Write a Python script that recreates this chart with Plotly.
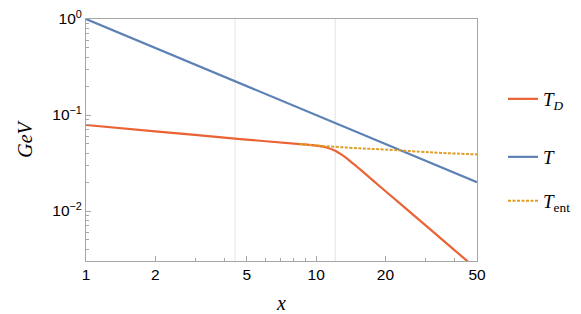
import plotly.graph_objects as go
import math

# ---- data ----
x_T = [1, 50]
y_T = [1.0, 0.02]

x_TD = [1, 2, 4.68, 8.5, 10, 10.99, 12.1, 13.0, 14.09, 15.0, 16.6, 19.0, 23.17, 32.36, 44.98, 50]
y_TD = [0.0787, 0.0676, 0.0562, 0.0498, 0.04808, 0.04613, 0.04246, 0.03819,
        0.03296, 0.02911, 0.02366, 0.01791, 0.01194, 0.006026, 0.003069, 0.002472]

x_Tent = [8.5, 10, 15.5, 20, 28.3, 35, 50]
y_Tent = [0.0499, 0.0482, 0.0450, 0.0437, 0.0415, 0.0403, 0.0389]

x_ticks = [1, 2, 5, 10, 20, 50]
x_ticktext = ["1", "2", "5", "10", "20", "50"]
x_minor = [3, 4, 6, 7, 8, 9, 30, 40]
y_ticks = [1, 0.1, 0.01]
y_ticktext = ["10<sup>0</sup>", "10<sup>\u22121</sup>", "10<sup>\u22122</sup>"]
y_minor = [0.003, 0.004, 0.005, 0.006, 0.007, 0.008, 0.009,
           0.02, 0.03, 0.04, 0.05, 0.06, 0.07, 0.08, 0.09,
           0.2, 0.3, 0.4, 0.5, 0.6, 0.7, 0.8, 0.9]
grid_x = [4.44, 12.1]

C_TD = "#EB6235"
C_T = "#5E81B5"
C_TENT = "#E19C24"
AX = "#a6a6a6"
SERIF = "Liberation Serif, DejaVu Serif, serif"
SANS = "Liberation Sans, Arial, sans-serif"

W, H = 581, 314

fig = go.Figure()
fig.add_trace(go.Scatter(x=x_TD, y=y_TD, mode="lines", name="<i>T</i><sub><i>D</i></sub>",
                         line=dict(color=C_TD, width=2.2, shape="spline", smoothing=0.6),
                         legend="legend"))
fig.add_trace(go.Scatter(x=x_T, y=y_T, mode="lines", name="<i>T</i>",
                         line=dict(color=C_T, width=2.2), legend="legend2"))
fig.add_trace(go.Scatter(x=x_Tent, y=y_Tent, mode="lines", name="<i>T</i><sub>ent</sub>",
                         line=dict(color=C_TENT, width=2, dash="3px,1.5px", shape="spline"),
                         legend="legend3"))

for gx in grid_x:
    fig.add_shape(type="line", xref="x", yref="paper", x0=gx, x1=gx, y0=0, y1=1,
                  line=dict(color="#e3e3e3", width=1), layer="below")

lx = 503 / W
leg_common = dict(xref="container", yref="container", x=lx, xanchor="left", yanchor="middle",
                  font=dict(family=SERIF, size=19, color="black"),
                  bgcolor="rgba(0,0,0,0)", itemwidth=30, tracegroupgap=0)
fig.update_layout(
    legend=dict(y=(H - 99) / H, **leg_common),
    legend2=dict(y=(H - 157) / H, **leg_common),
    legend3=dict(y=(H - 201) / H, **leg_common),
)

fig.update_layout(
    width=W, height=H,
    margin=dict(l=86, r=104, t=19, b=53, autoexpand=False),
    paper_bgcolor="white", plot_bgcolor="white",
    showlegend=True,
    xaxis=dict(type="log", range=[0, math.log10(50)], automargin=False,
               tickvals=x_ticks, ticktext=x_ticktext,
               ticks="inside", ticklen=5, tickcolor=AX, tickwidth=1,
               minor=dict(tickvals=x_minor, ticks="inside", ticklen=3, tickcolor=AX, showgrid=False),
               showgrid=False, zeroline=False,
               showline=True, linecolor=AX, linewidth=1, mirror=True,
               tickfont=dict(family=SANS, size=15.5, color="black"),
               ticklabelstandoff=-1, ticklabeloverflow="allow",
               title=dict(text="<i>x</i>", font=dict(family=SERIF, size=20, color="black"),
                          standoff=15)),
    yaxis=dict(type="log", range=[-2.52, 0], automargin=False,
               tickvals=y_ticks, ticktext=y_ticktext,
               ticks="inside", ticklen=5, tickcolor=AX, tickwidth=1,
               minor=dict(tickvals=y_minor, ticks="inside", ticklen=3, tickcolor=AX, showgrid=False),
               showgrid=False, zeroline=False,
               showline=True, linecolor=AX, linewidth=1, mirror=True,
               tickfont=dict(family=SANS, size=15.5, color="black"),
               ticklabelstandoff=0, ticklabeloverflow="allow",
               title=dict(text="<i>GeV</i>", font=dict(family=SERIF, size=20, color="black"),
                          standoff=14)),
)

fig.write_html("out.html",
               config={"displayModeBar": False},
               post_script="document.body.style.margin='0';document.body.style.padding='0';")
